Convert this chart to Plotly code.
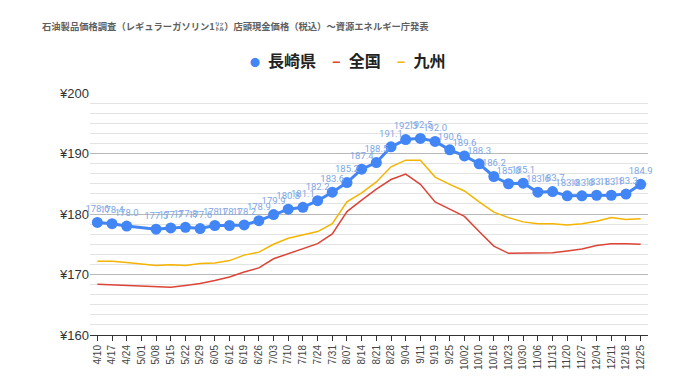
import plotly.graph_objects as go

dates = ["4/10","4/17","4/24","5/01","5/08","5/15","5/22","5/29","6/05","6/12","6/19","6/26",
         "7/03","7/10","7/18","7/24","7/31","8/07","8/14","8/21","8/28","9/04","9/11","9/19",
         "9/25","10/02","10/10","10/16","10/23","10/30","11/06","11/13","11/20","11/27",
         "12/04","12/11","12/18","12/25"]

nagasaki = [178.6,178.4,178.0,None,177.5,177.7,177.8,177.6,178.1,178.1,178.2,178.9,
            179.9,180.8,181.1,182.2,183.6,185.2,187.4,188.5,191.1,192.3,192.5,192.0,
            190.6,189.6,188.3,186.2,185.0,185.1,183.6,183.7,183.0,183.0,183.1,183.1,183.3,184.9]

zenkoku = [168.4,168.3,168.1,168.0,167.9,167.9,168.2,168.5,169.0,169.6,170.4,171.1,
           172.6,173.4,174.2,175.1,176.7,180.4,182.3,184.1,185.7,186.6,184.9,182.0,
           180.8,179.6,177.1,174.7,173.5,173.5,173.5,173.6,173.9,174.2,174.8,175.1,175.1,175.0]

kyushu = [172.2,172.2,172.0,171.8,171.5,171.6,171.5,171.8,171.9,172.3,173.2,173.7,
          175.0,176.0,176.6,177.1,178.4,182.0,183.5,185.3,187.8,188.9,188.9,186.1,
          184.9,183.8,182.0,180.3,179.4,178.7,178.4,178.4,178.2,178.4,178.8,179.4,179.1,179.2]

y_ticks = [160, 170, 180, 190, 200]
y_tick_labels = ["¥160", "¥170", "¥180", "¥190", "¥200"]

series_names = ["長崎県", "全国", "九州"]

title_text = "石油製品価格調査（レギュラーガソリン1㍑）店頭現金価格（税込）～資源エネルギー庁発表"

BLUE = "#4285f4"
RED = "#db4437"
YELLOW = "#f4b400"

fig = go.Figure()

fig.add_trace(go.Scatter(
    x=dates, y=zenkoku, mode="lines", name=series_names[1],
    line=dict(color=RED, width=1.5), showlegend=False))
fig.add_trace(go.Scatter(
    x=dates, y=kyushu, mode="lines", name=series_names[2],
    line=dict(color=YELLOW, width=1.5), showlegend=False))
fig.add_trace(go.Scatter(
    x=dates, y=nagasaki, mode="lines+markers+text", name=series_names[0],
    connectgaps=True,
    line=dict(color=BLUE, width=3),
    marker=dict(color=BLUE, size=11),
    text=["" if v is None else f"{v:.1f}" for v in nagasaki],
    textposition="top center",
    textfont=dict(size=9.5, color="#7ea6e6", family="Roboto, Arial, sans-serif"),
    cliponaxis=False,
    showlegend=False))

# compact legend drawn as a text line (like the reference)
en = "\u2002"
em = "\u2003"
legend_html = (
    f"<span style='color:{BLUE};font-size:10px'>●</span>{en}{series_names[0]}{em}"
    f"<span style='color:{RED}'>–</span>{en}{series_names[1]}{em}"
    f"<span style='color:{YELLOW}'>–</span>{en}{series_names[2]}"
)
fig.add_annotation(
    text=legend_html, xref="paper", yref="paper",
    x=(339 - 82) / 558, y=1 + 33 / 242, xanchor="center", yanchor="middle",
    showarrow=False,
    font=dict(size=16, color="#222", family="Noto Sans CJK JP, sans-serif", weight="bold"),
)

fig.update_layout(
    width=680, height=382,
    margin=dict(l=82, r=40, t=85, b=55),
    paper_bgcolor="white", plot_bgcolor="white",
    showlegend=False,
    font=dict(family="Noto Sans CJK JP, Arial, sans-serif", color="#333"),
    title=dict(text=title_text, x=34/680, xanchor="left", xref="container",
               y=1 - 19/382, yanchor="middle", pad=dict(l=0, r=0, t=0, b=0),
               font=dict(size=9.3, color="#5f5f5f", family="Noto Sans CJK JP, sans-serif", weight="bold")),
    xaxis=dict(type="category", range=[-0.5, len(dates) - 0.5],
               tickangle=-90, ticks="outside", ticklen=5, tickcolor="#333",
               showline=True, linecolor="#333", linewidth=1,
               showgrid=False,
               tickfont=dict(size=10, color="#444", family="Liberation Sans, Arial, sans-serif")),
    yaxis=dict(range=[160, 200], tickvals=y_ticks, ticktext=y_tick_labels,
               showgrid=True, gridcolor="#b8b8b8", gridwidth=1,
               minor=dict(dtick=10/6, showgrid=True, gridcolor="#e3e3e3", gridwidth=1),
               zeroline=False, ticks="", ticklen=0,
               tickfont=dict(size=13, color="#333", family="Liberation Sans, Arial, sans-serif")),
)

fig.write_html("out.html")
